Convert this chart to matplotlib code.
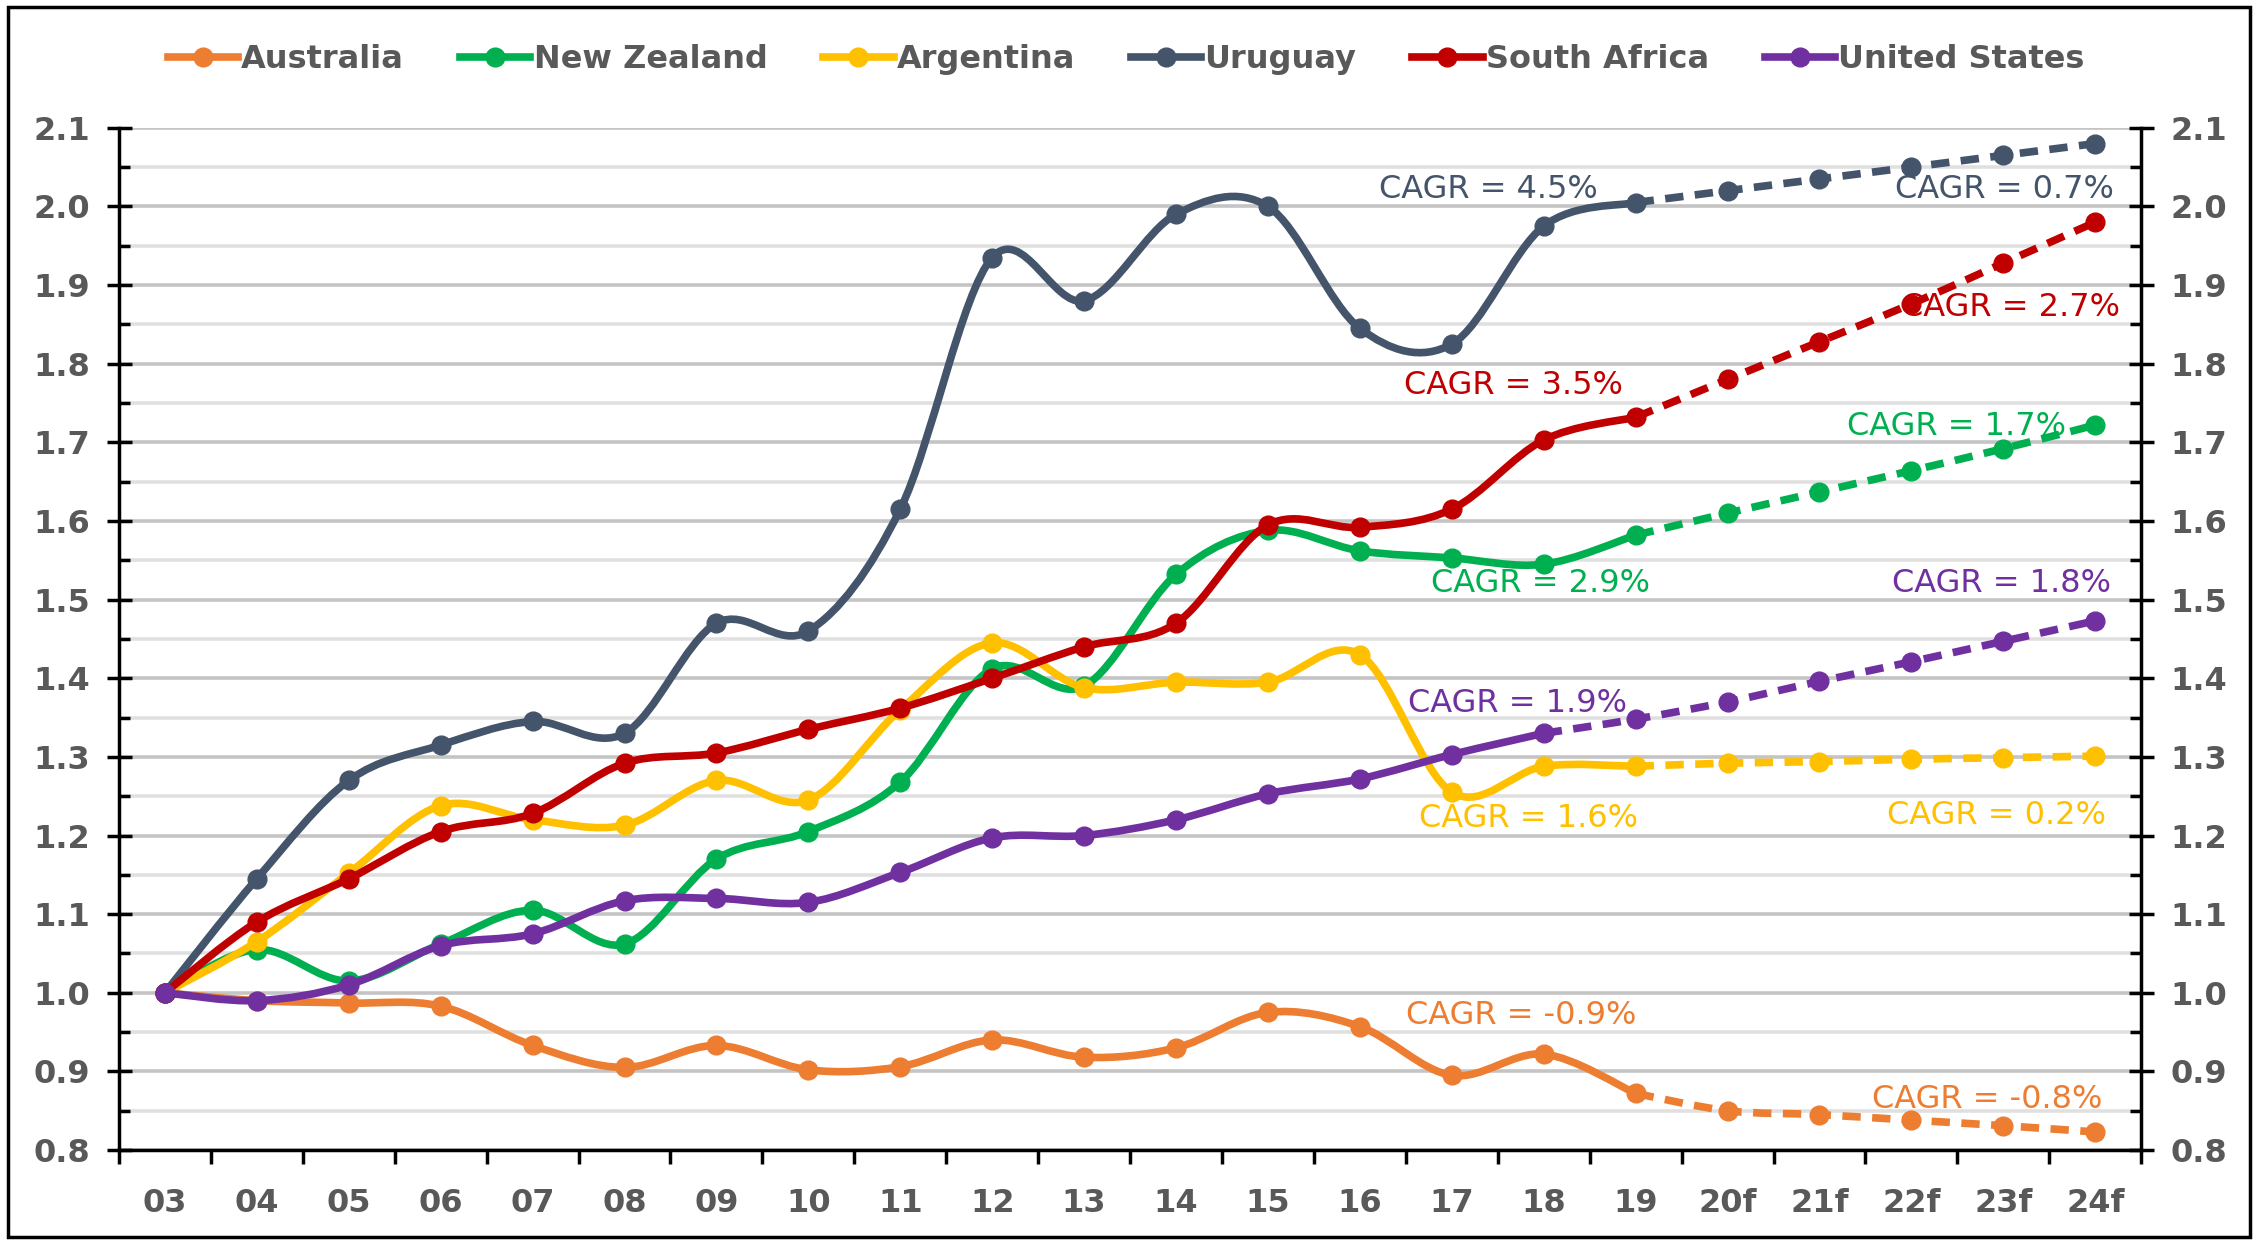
import numpy as np
import matplotlib.pyplot as plt
from matplotlib.path import Path
from matplotlib.patches import PathPatch, Rectangle
from matplotlib.lines import Line2D
from matplotlib.ticker import MultipleLocator, FixedLocator, FormatStrFormatter

# Index values (2003 = 1.0), actuals through 19, forecasts 20f-24f
years = ['03', '04', '05', '06', '07', '08', '09', '10', '11', '12', '13',
         '14', '15', '16', '17', '18', '19', '20f', '21f', '22f', '23f', '24f']

australia = [1.0, 0.99, 0.987, 0.983, 0.933, 0.905, 0.933, 0.902, 0.906, 0.94, 0.918,
             0.93, 0.975, 0.957, 0.895, 0.922, 0.872, 0.85, 0.845, 0.838, 0.831, 0.823]
new_zealand = [1.0, 1.055, 1.015, 1.062, 1.105, 1.062, 1.17, 1.205, 1.268, 1.412, 1.39,
               1.532, 1.588, 1.562, 1.553, 1.545, 1.582, 1.61, 1.637, 1.664, 1.692, 1.722]
argentina = [1.0, 1.065, 1.152, 1.238, 1.22, 1.213, 1.27, 1.245, 1.36, 1.445, 1.388,
             1.395, 1.395, 1.43, 1.255, 1.288, 1.288, 1.292, 1.294, 1.297, 1.299, 1.301]
uruguay = [1.0, 1.145, 1.27, 1.315, 1.345, 1.33, 1.47, 1.46, 1.615, 1.935, 1.88,
           1.99, 2.0, 1.845, 1.825, 1.975, 2.005, 2.02, 2.035, 2.05, 2.065, 2.08]
south_africa = [1.0, 1.09, 1.145, 1.205, 1.228, 1.292, 1.305, 1.335, 1.362, 1.40, 1.44,
                1.47, 1.595, 1.592, 1.615, 1.703, 1.732, 1.78, 1.828, 1.876, 1.928, 1.98]
united_states = [1.0, 0.99, 1.01, 1.06, 1.075, 1.117, 1.12, 1.115, 1.153, 1.197, 1.2,
                 1.22, 1.253, 1.272, 1.303, 1.33, 1.348, 1.37, 1.396, 1.421, 1.447, 1.473]

names = ['Australia', 'New Zealand', 'Argentina', 'Uruguay', 'South Africa', 'United States']
values = [australia, new_zealand, argentina, uruguay, south_africa, united_states]
colors = ['#ed7d31', '#00b050', '#ffc000', '#44546a', '#c00000', '#7030a0']
# index where the dashed forecast part starts
splits = [16, 16, 16, 16, 16, 15]

# CAGR labels: (text, x index, y value, series)
cagr_labels = [
    ('CAGR = 4.5%', 14.40, 2.021, 3), ('CAGR = 0.7%', 20.01, 2.021, 3),
    ('CAGR = 3.5%', 14.67, 1.772, 4), ('CAGR = 2.7%', 20.08, 1.871, 4),
    ('CAGR = 1.7%', 19.49, 1.720, 1), ('CAGR = 2.9%', 14.97, 1.521, 1),
    ('CAGR = 1.8%', 19.98, 1.521, 5), ('CAGR = 1.9%', 14.72, 1.368, 5),
    ('CAGR = 1.6%', 14.83, 1.222, 2), ('CAGR = 0.2%', 19.93, 1.225, 2),
    ('CAGR = -0.9%', 14.76, 0.9705, 0), ('CAGR = -0.8%', 19.82, 0.864, 0),
]


def smooth_path(xs, ys):
    # Excel-like smoothed line: cubic Bezier through the points
    pts = np.column_stack([xs, ys]).astype(float)
    n = len(pts)
    verts = [pts[0]]
    codes = [Path.MOVETO]
    for i in range(n - 1):
        p0 = pts[i - 1] if i > 0 else pts[i]
        p1 = pts[i]
        p2 = pts[i + 1]
        p3 = pts[i + 2] if i + 2 < n else pts[i + 1]
        verts += [p1 + (p2 - p0) / 6, p2 - (p3 - p1) / 6, p2]
        codes += [Path.CURVE4] * 3
    return Path(verts, codes)


plt.rcParams['font.family'] = ['DejaVu Sans']
fig = plt.figure(figsize=(22.57, 12.41), dpi=100)
ax = fig.add_axes([0.0527, 0.0733, 0.896, 0.8237])

x = np.arange(len(years))
lw = 5.5
ms = 13.5
for k, (name, vals, c, s) in enumerate(zip(names, values, colors, splits)):
    vals = np.array(vals)
    z = 3 + k
    solid = PathPatch(smooth_path(x[:s + 1], vals[:s + 1]), facecolor='none', edgecolor=c,
                      lw=lw, capstyle='round', joinstyle='round', zorder=z)
    dashed = PathPatch(smooth_path(x[s:], vals[s:]), facecolor='none', edgecolor=c,
                       lw=lw, linestyle=(0, (2.4, 1.5)), capstyle='butt', zorder=z)
    ax.add_patch(solid)
    ax.add_patch(dashed)
    ax.plot(x, vals, linestyle='none', marker='o', markersize=ms, color=c,
            zorder=z, clip_on=False)

for text, tx, ty, k in cagr_labels:
    ax.text(tx, ty, text, color=colors[k], fontsize=23, ha='center', va='center', zorder=2.5)

ax.set_xlim(-0.5, len(years) - 0.5)
ax.set_ylim(0.8, 2.1)

ax.yaxis.set_major_locator(MultipleLocator(0.1))
ax.yaxis.set_minor_locator(MultipleLocator(0.05))
ax.yaxis.set_major_formatter(FormatStrFormatter('%.1f'))
ax.xaxis.set_major_locator(FixedLocator(x))
ax.xaxis.set_minor_locator(FixedLocator(np.arange(-0.5, len(years), 1.0)))
ax.set_xticklabels(years)

ax.grid(which='major', axis='y', color='#c4c4c4', lw=2.6, zorder=0)
ax.grid(which='minor', axis='y', color='#e0e0e0', lw=2.6, zorder=0)
ax.set_axisbelow(True)

for side in ['left', 'right', 'bottom']:
    ax.spines[side].set_linewidth(2.5)
    ax.spines[side].set_color('black')
ax.spines['top'].set_visible(False)

ax.tick_params(axis='y', which='major', direction='inout', length=18, width=2.5,
               left=True, right=True, labelleft=True, labelright=True,
               labelsize=23, labelcolor='#595959', pad=12)
ax.tick_params(axis='y', which='minor', direction='in', length=8, width=2.5,
               left=True, right=True)
ax.tick_params(axis='x', which='major', length=0, pad=27, labelsize=23, labelcolor='#595959')
ax.tick_params(axis='x', which='minor', direction='out', length=10, width=2.5)
for lab in ax.get_xticklabels() + ax.get_yticklabels():
    lab.set_fontweight('bold')

handles = [Line2D([0], [0], color=c, lw=lw, marker='o', markersize=ms) for c in colors]
leg = fig.legend(handles, names, loc='center', bbox_to_anchor=(0.499, 0.952), ncol=6,
                 frameon=False, handlelength=2.2, handletextpad=0.1,
                 columnspacing=1.75, labelcolor='#595959', prop={'weight': 'bold', 'size': 23})

fig.patches.append(Rectangle((0.0035, 0.0032), 0.9934, 0.9912, transform=fig.transFigure,
                             fill=False, ec='black', lw=2.5))

fig.savefig('out.png', dpi=100)
